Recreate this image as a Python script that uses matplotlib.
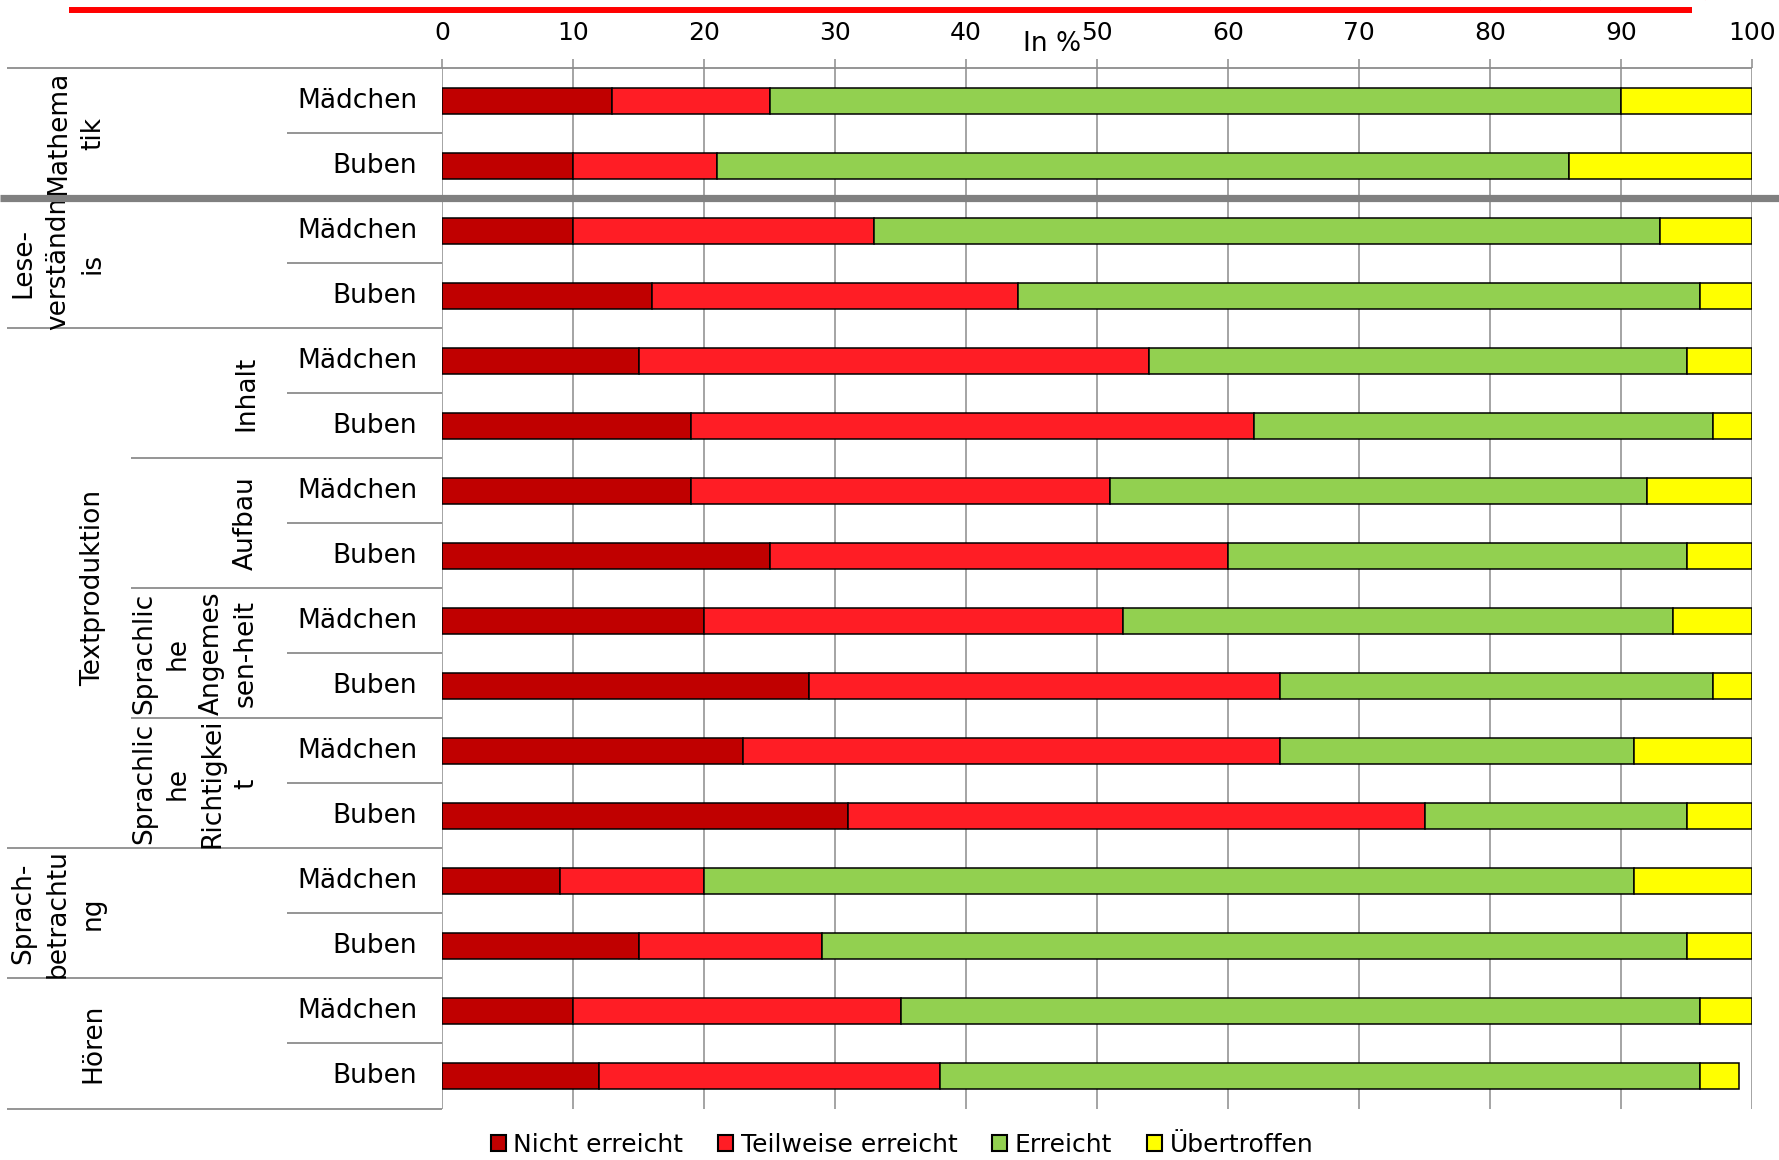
import matplotlib
matplotlib.use("Agg")
import matplotlib.pyplot as plt
from matplotlib.patches import Patch, Arc
from matplotlib.transforms import blended_transform_factory
import numpy as np

# ---------------- data ----------------
genders = ["Mädchen", "Buben"] * 8
nicht_erreicht = [13, 10, 10, 16, 15, 19, 19, 25, 20, 28, 23, 31, 9, 15, 10, 12]
teilweise_erreicht = [12, 11, 23, 28, 39, 43, 32, 35, 32, 36, 41, 44, 11, 14, 25, 26]
erreicht = [65, 65, 60, 52, 41, 35, 41, 35, 42, 33, 27, 20, 71, 66, 61, 58]
uebertroffen = [10, 14, 7, 4, 5, 3, 8, 5, 6, 3, 9, 5, 9, 5, 4, 3]
series_names = ["Nicht erreicht", "Teilweise erreicht", "Erreicht", "Übertroffen"]
series_colors = ["#C00000", "#FF1D25", "#92D050", "#FFFF00"]

level1_labels = ["Mathema\ntik", "Lese-\nverständn\nis", "Textproduktion",
                 "Sprach-\nbetrachtu\nng", "Hören"]
level1_spans = [(0, 2), (2, 4), (4, 12), (12, 14), (14, 16)]
level2_labels = ["Inhalt", "Aufbau", "Sprachlic\nhe\nAngemes\nsen-heit",
                 "Sprachlic\nhe\nRichtigkei\nt"]
level2_spans = [(4, 6), (6, 8), (8, 10), (10, 12)]
xticks = [0, 10, 20, 30, 40, 50, 60, 70, 80, 90, 100]

# ---------------- figure ----------------
W, H = 1779, 1160
fig = plt.figure(figsize=(W / 100, H / 100), dpi=100)
plt.rcParams['font.family'] = ['DejaVu Sans']

def fx(px):
    return px / W

def fy(py):
    return 1 - py / H

ax_left, ax_right = fx(442), fx(1752)
ax_top, ax_bottom = fy(68), fy(1108.5)
ax = fig.add_axes([ax_left, ax_bottom, ax_right - ax_left, ax_top - ax_bottom])

n = len(genders)
ypos = np.arange(n) + 0.5
grid_color = "#8C8C8C"

ax.set_xlim(0, 100)
ax.set_ylim(n, 0)
for s in ax.spines.values():
    s.set_visible(False)

for xv in xticks:
    ax.axvline(xv, color=grid_color, lw=1.1, zorder=0)

left = np.zeros(n)
for vals, col, name in zip([nicht_erreicht, teilweise_erreicht, erreicht, uebertroffen],
                           series_colors, series_names):
    ax.barh(ypos, vals, left=left, height=0.4, color=col, edgecolor="black",
            linewidth=1.1, zorder=3, label=name)
    left = left + np.array(vals)

ax.set_yticks([])
ax.set_xticks(xticks)
ax.xaxis.tick_top()
ax.tick_params(axis="x", top=True, bottom=False, labeltop=True, labelbottom=False,
               length=6.5, width=1.1, color=grid_color, pad=10, labelsize=18)

# ---------------- separators ----------------
tr = blended_transform_factory(fig.transFigure, ax.transData)
x_full, x_l2, x_g = fx(7), fx(130.5), fx(287)
boundary_start = {0: x_full, 16: x_full}
for (a, b) in level1_spans:
    boundary_start[a] = x_full
    boundary_start[b] = x_full
for (a, b) in level2_spans:
    boundary_start.setdefault(a, x_l2)
    boundary_start.setdefault(b, x_l2)
for k in range(1, n, 2):
    boundary_start.setdefault(k, x_g)

for yb, xs in boundary_start.items():
    if yb == 2:
        continue
    xe = ax_right if yb == 0 else ax_left
    ax.plot([xs, xe], [yb, yb], transform=tr, color=grid_color, lw=1.3,
            clip_on=False, zorder=2, solid_capstyle="butt")

ax.plot([0, 1], [2, 2], transform=tr, color="#808080", lw=5.2, clip_on=False,
        zorder=5, solid_capstyle="butt")

# ---------------- labels ----------------
fs = 19
for g, yv in zip(genders, ypos):
    ax.text(fx(417), yv, g, transform=tr, ha="right", va="center", fontsize=fs)

for lab, (a, b) in zip(level1_labels, level1_spans):
    ax.text(fx(106), (a + b) / 2, lab, transform=tr, rotation=90, ha="right",
            va="center", multialignment="center", fontsize=fs, linespacing=1.45)

for lab, (a, b) in zip(level2_labels, level2_spans):
    ax.text(fx(259), (a + b) / 2, lab, transform=tr, rotation=90, ha="right",
            va="center", multialignment="center", fontsize=fs, linespacing=1.4)

fig.text(fx(1052), fy(44), "In %", ha="center", va="center", fontsize=19)

# ---------------- red decoration at top ----------------
fig.add_artist(plt.Line2D([fx(69), fx(1692)], [fy(10), fy(10)], color="#FF0000",
                          lw=4.3, solid_capstyle="butt"))
for cx, t1, t2 in [(1552, 150, 210), (1694, -30, 30)]:
    fig.add_artist(Arc((fx(cx), fy(-4)), fx(20), 20 / H, theta1=t1, theta2=t2,
                       color="#FF0000", lw=3, transform=fig.transFigure))

# ---------------- legend ----------------
handles = [Patch(facecolor=c, edgecolor="black", linewidth=1.5) for c in series_colors]
fig.legend(handles, series_names, loc="center", bbox_to_anchor=(fx(902), fy(1145)),
           ncol=4, frameon=False, fontsize=18, handlelength=0.6, handleheight=0.6,
           handletextpad=0.3, columnspacing=1.4, borderaxespad=0)

fig.savefig("out.png", dpi=100)
